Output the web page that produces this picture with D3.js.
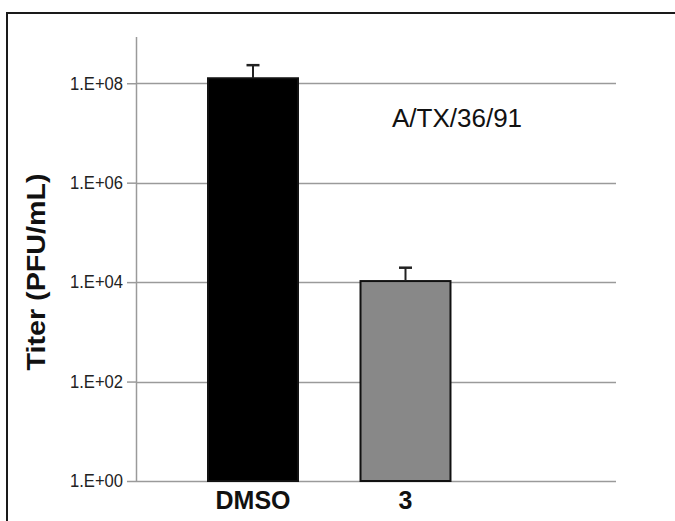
<!DOCTYPE html>
<html>
<head>
<meta charset="utf-8">
<script src="https://cdn.jsdelivr.net/npm/d3@7"></script>
<style>
  body { margin: 0; background: #fff; }
  svg { display: block; font-family: "Liberation Sans", Arial, sans-serif; }
</style>
</head>
<body>
<div id="chart"></div>
<script>
var svgWidth = 675;
var svgHeight = 521;

// data
var groups = ["DMSO", "3"];
var titers = [1.26e8, 1.05e4];
var errUpper = [1.05e8, 0.9e4];   // +SD above the bar top
var barColors = ["#000000", "#888888"];
var tickValues = [1, 1e2, 1e4, 1e6, 1e8];

var margin = { top: 37, left: 136, right: 59, bottom: 40 };
var plotWidth = svgWidth - margin.left - margin.right;
var plotHeight = svgHeight - margin.top - margin.bottom;

var svg = d3.select("#chart").append("svg")
    .attr("width", svgWidth)
    .attr("height", svgHeight);

// outer frame (only top and left edge are visible in the crop)
svg.append("path")
    .attr("d", "M7," + svgHeight + "V13H" + svgWidth)
    .attr("fill", "none")
    .attr("stroke", "#1a1a1a")
    .attr("stroke-width", 2);

var g = svg.append("g")
    .attr("transform", "translate(" + margin.left + "," + margin.top + ")");

var y = d3.scaleLog()
    .domain([1, Math.pow(10, 8.93)])
    .range([plotHeight, 0]);

var x = d3.scaleBand()
    .domain(groups)
    .range([40.75, 345.75])
    .paddingInner(0.41)
    .paddingOuter(0.205);

// gridlines
g.selectAll(".grid")
    .data(tickValues)
    .enter().append("line")
    .attr("x1", 0)
    .attr("x2", plotWidth)
    .attr("y1", d => Math.round(y(d)) + 0.5)
    .attr("y2", d => Math.round(y(d)) + 0.5)
    .attr("stroke", "#9a9a9a")
    .attr("stroke-width", 1.5);

// y axis
var yAxis = d3.axisLeft(y)
    .tickValues(tickValues)
    .tickSize(9)
    .tickPadding(4)
    .tickFormat(d => "1.E+" + d3.format("02d")(Math.round(Math.log10(d))));

var yG = g.append("g").call(yAxis);
yG.select(".domain").remove();
yG.selectAll(".tick line").attr("stroke", "#9a9a9a").attr("stroke-width", 1.5);
yG.selectAll(".tick text")
    .attr("fill", "#222")
    .style("font-size", "18px")
    .attr("textLength", 53)
    .attr("lengthAdjust", "spacingAndGlyphs");

g.append("line")
    .attr("x1", 0.5).attr("x2", 0.5)
    .attr("y1", 0).attr("y2", plotHeight)
    .attr("stroke", "#9a9a9a")
    .attr("stroke-width", 1.5);

// bars
g.selectAll(".bar")
    .data(groups)
    .enter().append("rect")
    .attr("x", d => x(d))
    .attr("width", x.bandwidth())
    .attr("y", (d, i) => y(titers[i]))
    .attr("height", (d, i) => plotHeight - y(titers[i]))
    .attr("fill", (d, i) => barColors[i])
    .attr("stroke", "#111")
    .attr("stroke-width", 2);

// error bars (upper only)
groups.forEach(function (d, i) {
    var cx = x(d) + x.bandwidth() / 2;
    var top = y(titers[i] + errUpper[i]);
    g.append("line")
        .attr("x1", cx).attr("x2", cx)
        .attr("y1", y(titers[i])).attr("y2", top)
        .attr("stroke", "#222").attr("stroke-width", 2);
    g.append("line")
        .attr("x1", cx - 6.5).attr("x2", cx + 6.5)
        .attr("y1", top).attr("y2", top)
        .attr("stroke", "#222").attr("stroke-width", 2.5);
});

// category labels
g.selectAll(".cat")
    .data(groups)
    .enter().append("text")
    .attr("x", d => x(d) + x.bandwidth() / 2)
    .attr("y", plotHeight + 28)
    .attr("text-anchor", "middle")
    .style("font-size", "25px")
    .style("font-weight", "bold")
    .attr("fill", "#111")
    .text(d => d);

// y title
svg.append("text")
    .attr("transform", "translate(45,272) rotate(-90)")
    .attr("text-anchor", "middle")
    .style("font-size", "25px")
    .style("font-weight", "bold")
    .attr("fill", "#111")
    .attr("textLength", 197)
    .attr("lengthAdjust", "spacingAndGlyphs")
    .text("Titer (PFU/mL)");

// strain label
svg.append("text")
    .attr("x", 392)
    .attr("y", 127)
    .style("font-size", "26px")
    .attr("fill", "#111")
    .text("A/TX/36/91");
</script>
</body>
</html>
